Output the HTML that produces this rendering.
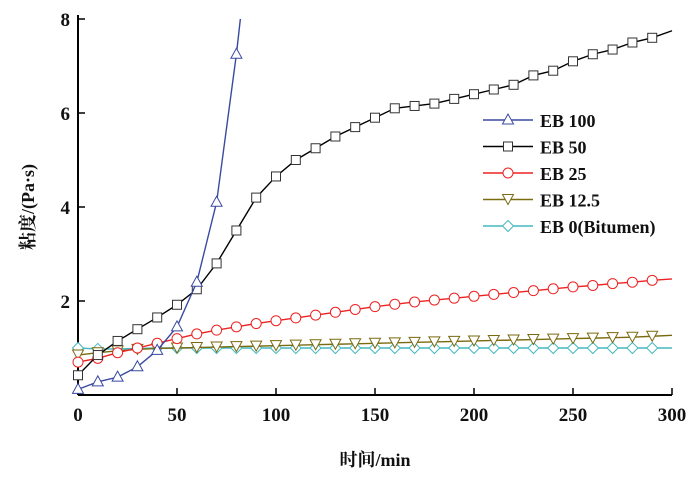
<!DOCTYPE html>
<html><head><meta charset="utf-8"><style>
body{margin:0;background:#fff}
svg{display:block}
text{font-family:"Liberation Serif","Noto Serif CJK SC",serif;fill:#111}
</style></head><body>
<svg id="c" width="700" height="481"></svg>
<script>
const xTicks=[0,50,100,150,200,250,300];
const yTicks=[2,4,6,8];
const t100=[0,10,20,30,40,50,60,70,80,82];
const eb100=[0.12,0.28,0.38,0.6,0.95,1.45,2.4,4.1,7.25,8.0];
const tAll=[0,10,20,30,40,50,60,70,80,90,100,110,120,130,140,150,160,170,180,190,200,210,220,230,240,250,260,270,280,290,300];
const eb50=[0.42,0.85,1.15,1.4,1.65,1.92,2.25,2.8,3.5,4.2,4.65,5.0,5.25,5.5,5.7,5.9,6.1,6.15,6.2,6.3,6.4,6.5,6.6,6.8,6.9,7.1,7.25,7.35,7.5,7.6,7.75];
const eb25=[0.7,0.78,0.9,1.0,1.1,1.2,1.3,1.38,1.45,1.52,1.58,1.64,1.7,1.76,1.82,1.88,1.93,1.98,2.02,2.06,2.1,2.14,2.18,2.22,2.26,2.3,2.33,2.37,2.4,2.44,2.47];
const eb12=[0.85,0.9,0.94,0.97,0.99,1.0,1.01,1.02,1.03,1.04,1.05,1.06,1.07,1.08,1.09,1.1,1.11,1.12,1.13,1.14,1.15,1.16,1.17,1.18,1.19,1.2,1.21,1.22,1.23,1.25,1.27];
const eb0=[1.0,0.98,0.98,0.99,1.0,1.0,1.0,1.0,1.0,1.0,1.0,1.0,1.0,1.0,1.0,1.0,1.0,1.0,1.0,1.0,1.0,1.0,1.0,1.0,1.0,1.0,1.0,1.0,1.0,1.0,1.0];
const X=v=>78+v*(672-78)/300, Y=v=>395-v*47;
const svg=document.getElementById('c'), NS='http://www.w3.org/2000/svg';
function el(tag,a,txt){const e=document.createElementNS(NS,tag);for(const k in a)e.setAttribute(k,a[k]);if(txt!==undefined)e.textContent=txt;svg.appendChild(e);return e;}
let e=el('line',{x1:78,y1:395,x2:672,y2:395,stroke:'#000','stroke-width':2});

e=el('line',{x1:78,y1:395,x2:78,y2:15,stroke:'#000','stroke-width':2});

xTicks.forEach(v=>{el('line',{x1:X(v),y1:395,x2:X(v),y2:388,stroke:'#000','stroke-width':1.5});
 e=el('text',{x:X(v),y:421,'text-anchor':'middle','font-size':19,'font-weight':'bold'},v);
 });
yTicks.forEach(v=>{el('line',{x1:78,y1:Y(v),x2:85,y2:Y(v),stroke:'#000','stroke-width':1.5});
 e=el('text',{x:70,y:Y(v)+7,'text-anchor':'end','font-size':19,'font-weight':'bold'},v);
 });
e=el('text',{x:375,y:466,'text-anchor':'middle','font-size':18,'font-weight':'bold'},'时间/min');

e=el('text',{x:0,y:0,'text-anchor':'middle','font-size':18,'font-weight':'bold',transform:'translate(34,207) rotate(-90)'},'粘度/(Pa·s)');

function marker(type,x,y,c){
 if(type==='tri')return el('polygon',{points:`${x},${y-6} ${x-5.5},${y+4} ${x+5.5},${y+4}`,fill:'#fff',stroke:c,'stroke-width':1});
 if(type==='sq')return el('rect',{x:x-4.5,y:y-4.5,width:9,height:9,fill:'#fff',stroke:'#333','stroke-width':1});
 if(type==='circ')return el('circle',{cx:x,cy:y,r:5,fill:'#fff',stroke:c,'stroke-width':1});
 if(type==='itri')return el('polygon',{points:`${x},${y+5} ${x-5.5},${y-5} ${x+5.5},${y-5}`,fill:'#fff',stroke:c,'stroke-width':1});
 return el('polygon',{points:`${x},${y-5.5} ${x+5.5},${y} ${x},${y+5.5} ${x-5.5},${y}`,fill:'#fff',stroke:c,'stroke-width':1});
}
const series=[
 {n:'EB 100',t:t100,v:eb100,c:'#3a4aa0',m:'tri',id:'eb100'},
 {n:'EB 50',t:tAll,v:eb50,c:'#000',m:'sq',id:'eb50'},
 {n:'EB 25',t:tAll,v:eb25,c:'#ee2222',m:'circ',id:'eb25'},
 {n:'EB 12.5',t:tAll,v:eb12,c:'#7a6a10',m:'itri',id:'eb12-5'},
 {n:'EB 0(Bitumen)',t:tAll,v:eb0,c:'#44b8c0',m:'dia',id:'eb0'}];
series.slice().reverse().forEach(s=>{
 const pts=s.t.map((t,i)=>X(t)+','+Y(s.v[i])).join(' ');
 e=el('polyline',{points:pts,fill:'none',stroke:s.c,'stroke-width':1.4});
 
 s.t.forEach((t,i)=>{if(t%10||t===300)return;
  e=marker(s.m,X(t),Y(s.v[i]),s.c);
  });
});
series.forEach((s,i)=>{const y=120+i*26.5;
 el('line',{x1:483,y1:y,x2:533,y2:y,stroke:s.c,'stroke-width':1.4});
 e=marker(s.m,508,y,s.c);
 
 e=el('text',{x:540,y:y+7,'font-size':18,'font-weight':'bold'},s.n);
 });
</script>
</body></html>
